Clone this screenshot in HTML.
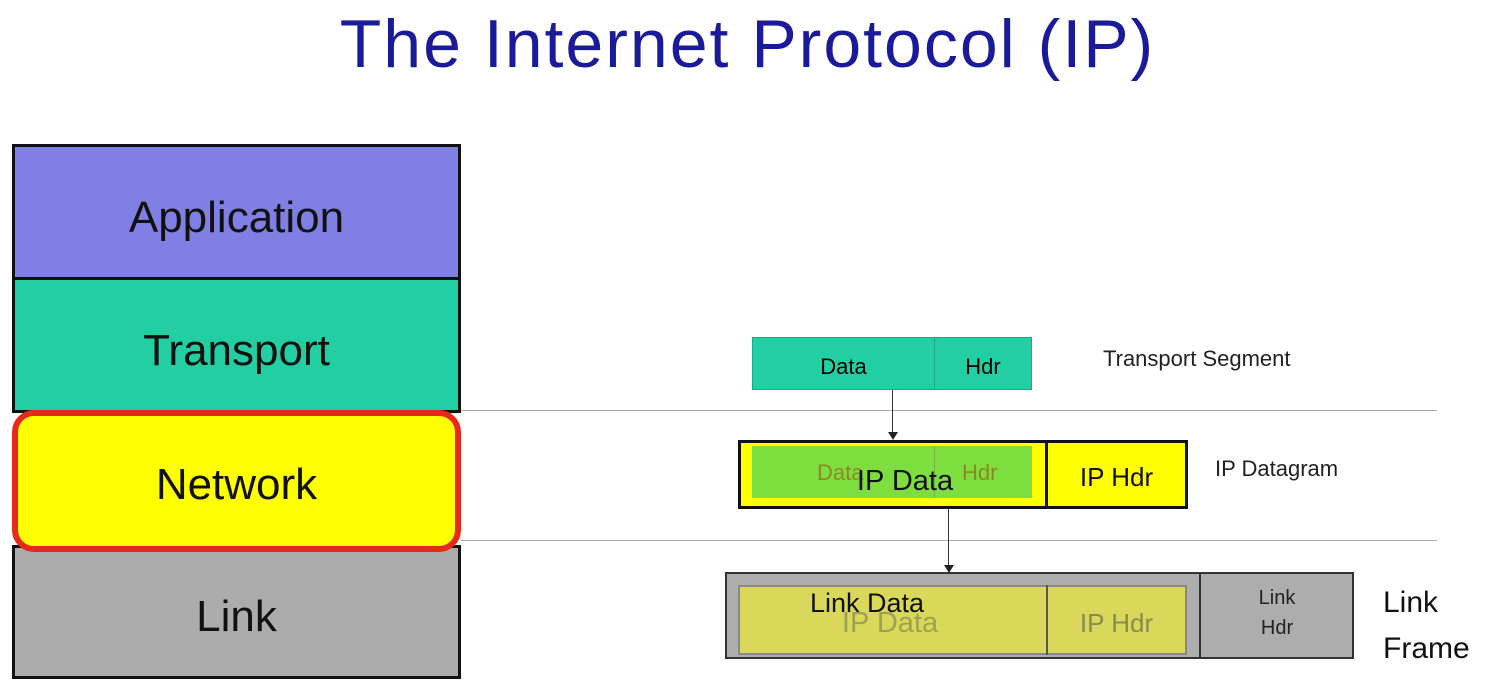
<!DOCTYPE html>
<html><head><style>
body{margin:0;width:1495px;height:692px;background:#fff;position:relative;overflow:hidden;font-family:"Liberation Sans",sans-serif;}
div{position:absolute;box-sizing:border-box;}
.c{display:flex;align-items:center;justify-content:center;}
</style></head><body>
<div class="c" style="left:0;top:4px;width:1495px;height:80px;font-size:68px;letter-spacing:2px;color:#1a1a9a;">The Internet Protocol (IP)</div>

<div class="c" style="left:12px;top:144px;width:449px;height:136px;background:#7f7fe4;border:3px solid #111;font-size:44px;color:#111;padding-top:12px;">Application</div>
<div class="c" style="left:12px;top:277px;width:449px;height:136px;background:#22cfa3;border:3px solid #111;font-size:44px;color:#111;padding-top:12px;">Transport</div>
<div class="c" style="left:12px;top:545px;width:449px;height:134px;background:#acacac;border:3px solid #111;font-size:44px;color:#111;padding-top:10px;">Link</div>
<div class="c" style="left:12px;top:410px;width:449px;height:142px;background:#ffff00;border:6px solid #e8281a;border-radius:22px;font-size:44px;color:#111;padding-top:8px;">Network</div>

<div style="left:461px;top:410px;width:976px;border-top:1px solid #aaa;"></div>
<div style="left:461px;top:540px;width:976px;border-top:1px solid #aaa;"></div>

<!-- transport segment -->
<div class="c" style="left:752px;top:337px;width:183px;height:53px;background:#22cfa3;border:1px solid #1aa888;font-size:22px;padding-top:6px;">Data</div>
<div class="c" style="left:934px;top:337px;width:98px;height:53px;background:#22cfa3;border:1px solid #1aa888;font-size:22px;padding-top:6px;">Hdr</div>
<div style="left:1103px;top:346px;font-size:22px;color:#222;">Transport Segment</div>
<div style="left:892px;top:390px;height:45px;border-left:1px solid #333;"></div>
<div style="left:888px;top:432px;width:0;height:0;border-left:5px solid transparent;border-right:5px solid transparent;border-top:8px solid #222;"></div>

<!-- IP datagram -->
<div style="left:738px;top:440px;width:450px;height:69px;background:#ffff00;border:3px solid #111;"></div>
<div style="left:1045px;top:440px;width:3px;height:69px;background:#111;"></div>
<div style="left:752px;top:446px;width:280px;height:52px;background:#7ede40;"></div>
<div style="left:934px;top:446px;height:52px;border-left:1px solid #6cb63c;"></div>
<div style="left:817px;top:460px;font-size:22px;color:#8a8a20;">Data</div>
<div style="left:962px;top:460px;font-size:22px;color:#8a8a20;">Hdr</div>
<div class="c" style="left:800px;top:457px;width:210px;height:48px;font-size:29px;color:#111;">IP Data</div>
<div class="c" style="left:1048px;top:446px;width:137px;height:63px;font-size:26px;color:#111;">IP Hdr</div>
<div style="left:1215px;top:456px;font-size:22px;color:#222;">IP Datagram</div>
<div style="left:948px;top:509px;height:58px;border-left:1px solid #333;"></div>
<div style="left:944px;top:565px;width:0;height:0;border-left:5px solid transparent;border-right:5px solid transparent;border-top:8px solid #222;"></div>

<!-- link frame -->
<div style="left:725px;top:572px;width:629px;height:87px;background:#adadad;border:2px solid #333;"></div>
<div style="left:1199px;top:572px;width:2px;height:87px;background:#333;"></div>
<div style="left:738px;top:585px;width:449px;height:70px;background:#d9d85a;border:2px solid #888;"></div>
<div style="left:1046px;top:585px;width:2px;height:70px;background:#555;"></div>
<div class="c" style="left:790px;top:598px;width:200px;height:50px;font-size:29px;color:#a0a050;">IP Data</div>
<div class="c" style="left:1048px;top:592px;width:137px;height:63px;font-size:26px;color:#8a8a50;">IP Hdr</div>
<div style="left:810px;top:588px;font-size:27px;color:#111;">Link Data</div>
<div class="c" style="left:1201px;top:578px;width:152px;height:70px;font-size:20px;color:#222;text-align:center;line-height:30px;">Link<br>Hdr</div>
<div style="left:1383px;top:580px;font-size:30px;color:#111;line-height:46px;">Link<br>Frame</div>
</body></html>
